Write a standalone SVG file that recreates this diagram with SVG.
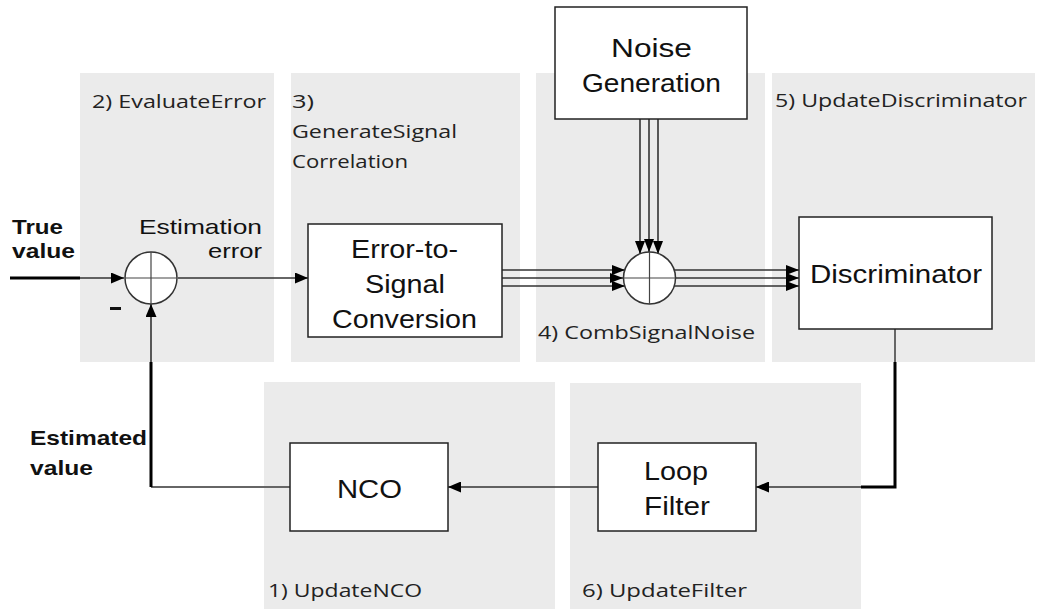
<svg xmlns="http://www.w3.org/2000/svg" width="1037" height="609" viewBox="0 0 1037 609">
<defs>
<style>
.panel{fill:#ebebeb;stroke:none}
.box{fill:#fff;stroke:#222;stroke-width:1.5}
.sum{fill:#fff;stroke:#333;stroke-width:1.5}
.cross{stroke:#444;stroke-width:1.2}
.t{font-family:"Liberation Sans",Arial,sans-serif;fill:#111}
.big{font-size:25px}
.mid{font-size:21px}
.bold{font-family:"Liberation Sans",Arial,sans-serif;font-size:21px;font-weight:bold;fill:#111}
.lbl{font-family:"Open Sans",Lato,sans-serif;font-size:19px;fill:#222}
.ln{fill:none;stroke:#333;stroke-width:1.6}
.thick{fill:none;stroke:#000;stroke-width:3}
.gray{fill:none;stroke:#666;stroke-width:2}
</style>
<marker id="ah" markerUnits="userSpaceOnUse" markerWidth="13" markerHeight="11" refX="13" refY="5.5" orient="auto">
<path d="M0,0 L13,5.5 L0,11 z" fill="#000"/>
</marker>
<marker id="ahs" markerUnits="userSpaceOnUse" markerWidth="13" markerHeight="10" refX="13" refY="5" orient="auto">
<path d="M0,0 L13,5 L0,10 z" fill="#000"/>
</marker>
</defs>
<rect width="1037" height="609" fill="#fff"/>

<g id="panels">
<rect class="panel" x="80" y="73" width="194" height="289"/>
<rect class="panel" x="291" y="73" width="229" height="289"/>
<rect class="panel" x="536" y="73" width="229" height="289"/>
<rect class="panel" x="772" y="73" width="263" height="289"/>
<rect class="panel" x="264" y="382" width="291" height="227"/>
<rect class="panel" x="570" y="383" width="291" height="226"/>
<text class="lbl" x="92" y="108" textLength="174" lengthAdjust="spacingAndGlyphs">2) EvaluateError</text>
<text class="lbl" x="292" y="108" textLength="22" lengthAdjust="spacingAndGlyphs">3)</text>
<text class="lbl" x="292" y="138" textLength="165" lengthAdjust="spacingAndGlyphs">GenerateSignal</text>
<text class="lbl" x="292" y="168" textLength="116" lengthAdjust="spacingAndGlyphs">Correlation</text>
<text class="lbl" x="538" y="339" textLength="217" lengthAdjust="spacingAndGlyphs">4) CombSignalNoise</text>
<text class="lbl" x="775" y="107" textLength="252" lengthAdjust="spacingAndGlyphs">5) UpdateDiscriminator</text>
<text class="lbl" x="268" y="597" textLength="154" lengthAdjust="spacingAndGlyphs">1) UpdateNCO</text>
<text class="lbl" x="582" y="597" textLength="165" lengthAdjust="spacingAndGlyphs">6) UpdateFilter</text>
</g>

<g id="connectors">
<line class="thick" x1="10" y1="278" x2="80" y2="278" stroke-width="2.5"/>
<line class="ln" x1="80" y1="278" x2="124" y2="278" marker-end="url(#ah)"/>
<line class="ln" x1="178" y1="278" x2="308" y2="278" marker-end="url(#ah)"/>
<line class="ln" x1="502" y1="270" x2="625" y2="270" marker-end="url(#ahs)"/>
<line class="ln" x1="502" y1="278" x2="623" y2="278" marker-end="url(#ahs)"/>
<line class="ln" x1="502" y1="286" x2="625" y2="286" marker-end="url(#ahs)"/>
<line class="ln" x1="640" y1="119" x2="640" y2="254" marker-end="url(#ahs)"/>
<line class="ln" x1="649" y1="119" x2="649" y2="252" marker-end="url(#ahs)"/>
<line class="ln" x1="658" y1="119" x2="658" y2="254" marker-end="url(#ahs)"/>
<line class="ln" x1="674" y1="270" x2="799" y2="270" marker-end="url(#ahs)"/>
<line class="ln" x1="676" y1="278" x2="799" y2="278" marker-end="url(#ahs)"/>
<line class="ln" x1="674" y1="286" x2="799" y2="286" marker-end="url(#ahs)"/>
<line class="gray" x1="895" y1="329" x2="895" y2="362"/>
<polyline class="thick" points="895,362 895,487 861,487"/>
<line class="ln" x1="861" y1="487" x2="756" y2="487" marker-end="url(#ah)"/>
<line class="ln" x1="598" y1="487" x2="448" y2="487" marker-end="url(#ah)"/>
<line class="gray" x1="290" y1="487" x2="151" y2="487"/>
<line class="thick" x1="151" y1="487" x2="151" y2="362"/>
<line class="ln" x1="151" y1="362" x2="151" y2="304" marker-end="url(#ah)"/>
</g>

<g id="sum1">
<circle class="sum" cx="151" cy="278" r="26"/>
<line class="cross" x1="125" y1="278" x2="177" y2="278"/>
<line class="cross" x1="151" y1="252" x2="151" y2="304"/>
</g>

<g id="sum2">
<circle class="sum" cx="649.5" cy="278" r="26"/>
<line class="cross" x1="623.5" y1="278" x2="675.5" y2="278"/>
<line class="cross" x1="649.5" y1="252" x2="649.5" y2="304"/>
</g>

<g id="labels">
<text class="bold" x="12" y="234" textLength="51" lengthAdjust="spacingAndGlyphs">True</text>
<text class="bold" x="12" y="258" textLength="63" lengthAdjust="spacingAndGlyphs">value</text>
<text class="t mid" x="139" y="234" textLength="123" lengthAdjust="spacingAndGlyphs">Estimation</text>
<text class="t mid" x="208" y="258" textLength="54" lengthAdjust="spacingAndGlyphs">error</text>
<rect x="110" y="307" width="11" height="3" fill="#111"/>
<text class="bold" x="30" y="445" textLength="117" lengthAdjust="spacingAndGlyphs">Estimated</text>
<text class="bold" x="30" y="475" textLength="63" lengthAdjust="spacingAndGlyphs">value</text>
</g>

<g id="error-to-signal">
<rect class="box" x="308" y="224" width="194" height="113"/>
<text class="t big" x="351" y="258" textLength="107" lengthAdjust="spacingAndGlyphs">Error-to-</text>
<text class="t big" x="365" y="293" textLength="80" lengthAdjust="spacingAndGlyphs">Signal</text>
<text class="t big" x="332" y="328" textLength="145" lengthAdjust="spacingAndGlyphs">Conversion</text>
</g>

<g id="noise-generation">
<rect class="box" x="555" y="7" width="192" height="112"/>
<text class="t big" x="611" y="57" textLength="81" lengthAdjust="spacingAndGlyphs">Noise</text>
<text class="t big" x="582" y="92" textLength="139" lengthAdjust="spacingAndGlyphs">Generation</text>
</g>

<g id="discriminator">
<rect class="box" x="799" y="217" width="193" height="112"/>
<text class="t big" x="810" y="283" textLength="172" lengthAdjust="spacingAndGlyphs">Discriminator</text>
</g>

<g id="nco">
<rect class="box" x="290" y="443" width="158" height="88"/>
<text class="t big" x="337" y="498" textLength="65" lengthAdjust="spacingAndGlyphs">NCO</text>
</g>

<g id="loop-filter">
<rect class="box" x="598" y="443" width="158" height="88"/>
<text class="t big" x="644" y="480" textLength="64" lengthAdjust="spacingAndGlyphs">Loop</text>
<text class="t big" x="644" y="515" textLength="66" lengthAdjust="spacingAndGlyphs">Filter</text>
</g>
</svg>
